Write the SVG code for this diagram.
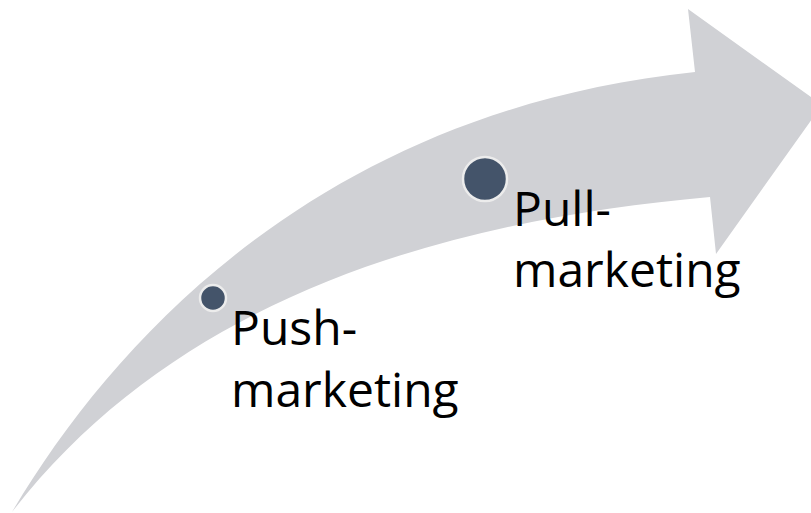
<svg xmlns="http://www.w3.org/2000/svg" width="811" height="513" viewBox="0 0 811 513">
<style>
.arrow{fill:#d0d1d5;}
.dot{fill:#44546a;stroke:#ececec;stroke-width:2.5;}
.lbl{font-family:"Open Sans","Liberation Sans",sans-serif;font-size:48px;fill:#000;}
</style>
<rect width="811" height="513" fill="#ffffff"/>
<g id="arrow">
<path class="arrow" d="M12,512 C120,330 330,110 695,72 L688,9 L822,105 L716,254 L710,197 C450,220 180,295 12,512 Z"/>
</g>
<g id="connectors"></g>
<g id="push">
<circle class="dot" cx="213" cy="298" r="13"/>
<text class="lbl" x="231" y="345">Push-</text>
<text class="lbl" x="231" y="407">marketing</text>
</g>
<g id="pull">
<circle class="dot" cx="485" cy="179" r="22"/>
<text class="lbl" x="513" y="226">Pull-</text>
<text class="lbl" x="513" y="287">marketing</text>
</g>
</svg>
